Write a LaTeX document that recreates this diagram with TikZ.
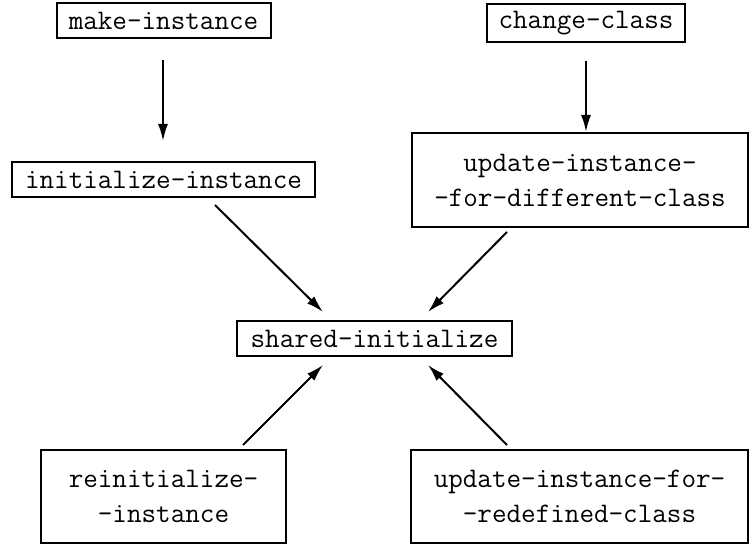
\documentclass[tikz,border=0pt]{standalone}
\usetikzlibrary{arrows.meta}
\begin{document}
\begin{tikzpicture}[x=1pt,y=1pt,
  box/.style={draw,line width=2pt,inner sep=0pt,align=center,
    font=\ttfamily\fontsize{28.3}{35}\selectfont},
  conn/.style={line width=2pt,-{Latex[length=17pt,width=10pt]}}]
\useasboundingbox (0,0) rectangle (754,-545);
\node[box,minimum width=214pt,minimum height=35pt] (mi) at (163.5,-21) {make-instance};
\node[box,minimum width=198pt,minimum height=38pt] (cc) at (586,-23) {change-class};
\node[box,minimum width=303pt,minimum height=35pt] (ii) at (163.5,-179.5) {initialize-instance};
\node[box,minimum width=336pt,minimum height=94pt] (ud) at (580,-180) {update-instance-\\-for-different-class};
\node[box,minimum width=275pt,minimum height=35pt] (si) at (374.5,-338.5) {shared-initialize};
\node[box,minimum width=245pt,minimum height=93pt] (ri) at (163.5,-496.5) {reinitialize-\\-instance};
\node[box,minimum width=337pt,minimum height=93pt] (ur) at (579.5,-496.5) {update-instance-for-\\-redefined-class};
\coordinate (a1s) at (163,-60);  \coordinate (a1e) at (163,-141);
\coordinate (a2s) at (586,-61);  \coordinate (a2e) at (586,-132);
\coordinate (a3s) at (215,-205); \coordinate (a3e) at (323,-312);
\coordinate (a4s) at (507,-232); \coordinate (a4e) at (428,-312);
\coordinate (a5s) at (243,-445); \coordinate (a5e) at (323,-365);
\coordinate (a6s) at (507,-445); \coordinate (a6e) at (428,-365);
\draw[conn] (a1s) -- (a1e);
\draw[conn] (a2s) -- (a2e);
\draw[conn] (a3s) -- (a3e);
\draw[conn] (a4s) -- (a4e);
\draw[conn] (a5s) -- (a5e);
\draw[conn] (a6s) -- (a6e);
\end{tikzpicture}
\end{document}
